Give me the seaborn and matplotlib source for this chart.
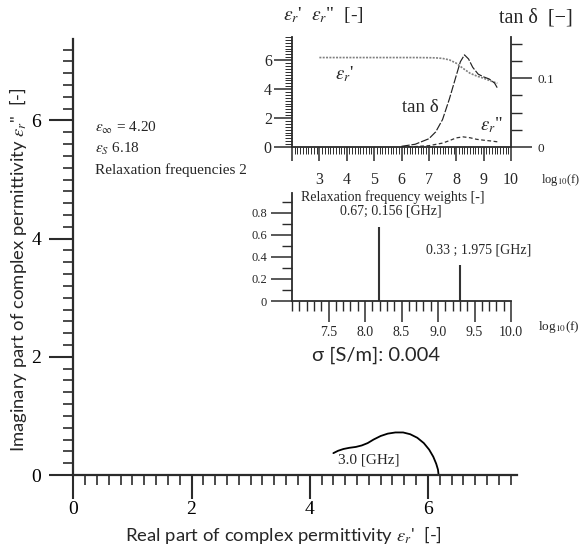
import numpy as np
import pandas as pd
import matplotlib
matplotlib.use("Agg")
import matplotlib.pyplot as plt
import seaborn as sns
from matplotlib.ticker import MultipleLocator, FixedLocator, FormatStrFormatter

# ---------------- data ----------------
# Cole-Cole curve (main axes)
cole_real = [4.40, 4.48, 4.57, 4.67, 4.78, 4.88, 4.98, 5.08, 5.20, 5.32, 5.45,
             5.58, 5.70, 5.82, 5.93, 6.02, 6.09, 6.14, 6.17, 6.18]
cole_imag = [0.37, 0.41, 0.44, 0.46, 0.475, 0.50, 0.54, 0.60, 0.66, 0.70, 0.72,
             0.72, 0.69, 0.63, 0.54, 0.43, 0.31, 0.19, 0.09, 0.00]

# top inset: permittivity spectra vs log10(f)
epsr_logf = [3.0, 4.0, 5.0, 6.0, 6.5, 7.0, 7.25, 7.5, 7.75, 8.0, 8.25, 8.5, 8.75, 9.0, 9.25, 9.5]
epsr_real = [6.18, 6.18, 6.18, 6.18, 6.18, 6.17, 6.16, 6.12, 6.02, 5.79, 5.43, 5.10, 4.90, 4.75, 4.57, 4.40]

tand_logf = [6.0, 6.5, 7.0, 7.25, 7.5, 7.75, 8.0, 8.15, 8.3, 8.45, 8.6, 8.8, 9.0, 9.2, 9.4, 9.5]
tand_vals = [0.001, 0.004, 0.012, 0.022, 0.040, 0.070, 0.104, 0.124, 0.134, 0.128, 0.116, 0.106,
             0.102, 0.099, 0.093, 0.086]

epsi_logf = [6.0, 6.5, 7.0, 7.5, 7.75, 8.0, 8.25, 8.5, 8.75, 9.0, 9.25, 9.5]
epsi_vals = [0.01, 0.03, 0.09, 0.27, 0.44, 0.63, 0.70, 0.64, 0.53, 0.47, 0.42, 0.36]

# middle inset: relaxation frequency weights
relax_logf = [8.19, 9.30]
relax_weights = [0.67, 0.33]
relax_labels = ["0.67; 0.156 [GHz]", "0.33 ; 1.975 [GHz]"]

main_xticks = [0, 2, 4, 6]
main_yticks = [0, 2, 4, 6]
top_xticks = [2, 3, 4, 5, 6, 7, 8, 9, 10]
top_yticks = [0, 2, 4, 6]
top_rticks = [0, 0.1]
mid_xticks = [7.5, 8.0, 8.5, 9.0, 9.5, 10.0]
mid_yticks = [0, 0.2, 0.4, 0.6, 0.8]

# ---------------- style ----------------
sns.set_theme(style="ticks")
plt.rcParams["font.family"] = ["Lato", "DejaVu Sans"]
plt.rcParams["mathtext.fontset"] = "stix"
SERIF = ["Liberation Serif", "DejaVu Serif"]
INK = "#2b2b2b"

W, H = 582, 551
fig = plt.figure(figsize=(W / 100, H / 100), dpi=100)
fig.patch.set_facecolor("white")


def rect(l, r, t, b):
    return [l / W, 1 - b / H, (r - l) / W, (b - t) / H]


def fx(x):
    return x / W


def fy(y):
    return 1 - y / H


def style_axes(ax, lw=1.5):
    for s in ["top", "right"]:
        ax.spines[s].set_visible(False)
    for s in ["left", "bottom"]:
        ax.spines[s].set_color(INK)
        ax.spines[s].set_linewidth(lw)
    ax.set_facecolor("none")
    ax.grid(False)


# ---------------- main axes (Cole-Cole) ----------------
ax = fig.add_axes(rect(73.3, 516.6, 38.6, 475))
style_axes(ax, 1.6)
cole_df = pd.DataFrame({"re": cole_real, "im": cole_imag})
sns.lineplot(data=cole_df, x="re", y="im", sort=False, ax=ax, color="black", lw=1.3)
ax.set_xlim(0, 7.5)
ax.set_ylim(0, 7.385)
ax.xaxis.set_major_locator(FixedLocator(main_xticks))
ax.yaxis.set_major_locator(FixedLocator(main_yticks))
ax.xaxis.set_minor_locator(MultipleLocator(0.2))
ax.yaxis.set_minor_locator(MultipleLocator(0.2))
ax.tick_params(which="both", bottom=True, left=True, top=False, right=False)
ax.tick_params(which="major", direction="out", length=17, width=1.5, color=INK, pad=2)
ax.tick_params(axis="y", which="major", pad=6)
ax.tick_params(which="minor", direction="out", length=7, width=1.2, color=INK)
for lab in ax.get_xticklabels() + ax.get_yticklabels():
    lab.set_family(SERIF)
    lab.set_fontsize(14)
    lab.set_color("black")
ax.set_xlabel("Real part of complex permittivity $\\varepsilon_r$'  [-]", fontsize=13.3)
ax.xaxis.set_label_coords(0.474, -0.113)
ax.set_ylabel('Imaginary part of complex permittivity $\\varepsilon_r$"  [-]', fontsize=13.3)
ax.yaxis.set_label_coords(-0.1, 0.47)
ax.text(5.0, 0.26, "3.0 [GHz]", family=SERIF, fontsize=11, ha="center", va="center")

fig.text(fx(95), fy(128), "$\\varepsilon_\\infty$ = 4.20", family=SERIF, fontsize=11, va="center")
fig.text(fx(95), fy(149), "$\\varepsilon_S$ 6.18", family=SERIF, fontsize=11, va="center")
fig.text(fx(95), fy(170), "Relaxation frequencies 2", family=SERIF, fontsize=11, va="center")

# ---------------- top inset (spectra) ----------------
axT = fig.add_axes(rect(292, 511, 37, 147))
style_axes(axT, 1.3)
d1 = pd.DataFrame({"logf": epsr_logf, "v": epsr_real})
d3 = pd.DataFrame({"logf": epsi_logf, "v": epsi_vals})
sns.lineplot(data=d1, x="logf", y="v", ax=axT, color="#808080", lw=1.2, linestyle=(0, (1.2, 0.8)))
sns.lineplot(data=d3, x="logf", y="v", ax=axT, color="#333333", lw=0.9, linestyle=(0, (3, 2)))
axT.set_xlim(2, 10)
axT.set_ylim(0, 7.6)
axT.xaxis.set_major_locator(FixedLocator(top_xticks))
axT.xaxis.set_minor_locator(MultipleLocator(0.1))
axT.yaxis.set_major_locator(FixedLocator(top_yticks))
axT.yaxis.set_minor_locator(MultipleLocator(0.2))
axT.tick_params(which="both", bottom=True, left=True, top=False, right=False)
axT.tick_params(which="major", direction="out", length=10, width=1.1, color=INK, pad=8)
axT.tick_params(axis="y", which="major", length=13, pad=1.5)
axT.tick_params(which="minor", direction="out", length=5, width=0.7, color=INK)
axT.set_xticklabels(["", "3", "4", "5", "6", "7", "8", "9", "10"])
for lab in axT.get_xticklabels() + axT.get_yticklabels():
    lab.set_family(SERIF)
    lab.set_fontsize(11.5)
axT.set_xlabel("")
axT.set_ylabel("")

axR = axT.twinx()
axR.set_facecolor("none")
for s in ["top", "left", "bottom"]:
    axR.spines[s].set_visible(False)
axR.spines["right"].set_visible(True)
axR.spines["right"].set_color(INK)
axR.spines["right"].set_linewidth(1.3)
d2 = pd.DataFrame({"logf": tand_logf, "v": tand_vals})
sns.lineplot(data=d2, x="logf", y="v", ax=axR, color="#222222", lw=0.85, linestyle=(0, (7, 1.5)))
axR.set_ylim(0, 0.16)
axR.yaxis.set_major_locator(FixedLocator(top_rticks))
axR.yaxis.set_major_formatter(FormatStrFormatter("%g"))
axR.yaxis.set_minor_locator(MultipleLocator(0.025))
axR.tick_params(which="both", right=True, left=False)
axR.tick_params(which="major", direction="out", length=15, width=1.1, color=INK, pad=4)
axR.tick_params(which="minor", direction="out", length=8, width=1.0, color=INK)
axR.grid(False)
axR.set_ylabel("")
for lab in axR.get_yticklabels():
    lab.set_family(SERIF)
    lab.set_fontsize(9.5)

fig.text(fx(283), fy(15), "$\\varepsilon_r$'  $\\varepsilon_r$\"  [-]", family=SERIF, fontsize=14, va="center")
fig.text(fx(499), fy(18), "tan δ  [−]", family=SERIF, fontsize=14.5, va="center")
axT.text(3.9, 5.0, "$\\varepsilon_r$'", family=SERIF, fontsize=13.5, ha="center", va="center")
axT.text(6.7, 2.7, "tan δ", family=SERIF, fontsize=13.5, ha="center", va="center")
axT.text(9.3, 1.5, "$\\varepsilon_r$\"", family=SERIF, fontsize=13.5, ha="center", va="center")
fig.text(fx(541), fy(180), "log$_{10}$(f)", family=SERIF, fontsize=9, va="center")

# ---------------- middle inset (relaxation weights) ----------------
axM = fig.add_axes(rect(292, 511, 193, 301))
style_axes(axM, 1.3)
axM.vlines(relax_logf, 0, relax_weights, color="#333333", lw=1.5)
axM.set_xlim(7, 10)
axM.set_ylim(0, 0.98)
axM.xaxis.set_major_locator(FixedLocator(mid_xticks))
axM.xaxis.set_major_formatter(FormatStrFormatter("%.1f"))
axM.xaxis.set_minor_locator(MultipleLocator(0.1))
axM.yaxis.set_major_locator(FixedLocator(mid_yticks))
axM.yaxis.set_major_formatter(FormatStrFormatter("%g"))
axM.yaxis.set_minor_locator(MultipleLocator(0.1))
axM.tick_params(which="both", bottom=True, left=True, top=False, right=False)
axM.tick_params(which="major", direction="out", length=15, width=1.1, color=INK, pad=3)
axM.tick_params(which="minor", direction="out", length=7, width=1.0, color=INK)
for lab in axM.get_xticklabels():
    lab.set_family(SERIF)
    lab.set_fontsize(10)
for lab in axM.get_yticklabels():
    lab.set_family(SERIF)
    lab.set_fontsize(9)
axM.text(7.13, 0.94, "Relaxation frequency weights [-]", family=SERIF, fontsize=10, va="center")
label_dx = [0.16, 0.26]
label_dy = [0.15, 0.13]
for xv, wv, txt, dx, dy in zip(relax_logf, relax_weights, relax_labels, label_dx, label_dy):
    axM.text(xv + dx, wv + dy, txt, family=SERIF, fontsize=10, ha="center", va="center")
fig.text(fx(538), fy(327), "log$_{10}$(f)", family=SERIF, fontsize=9.5, va="center")
fig.text(fx(312), fy(355), "σ [S/m]: 0.004", fontsize=14.5, va="center")

fig.savefig("out.png", dpi=100, facecolor="white")
